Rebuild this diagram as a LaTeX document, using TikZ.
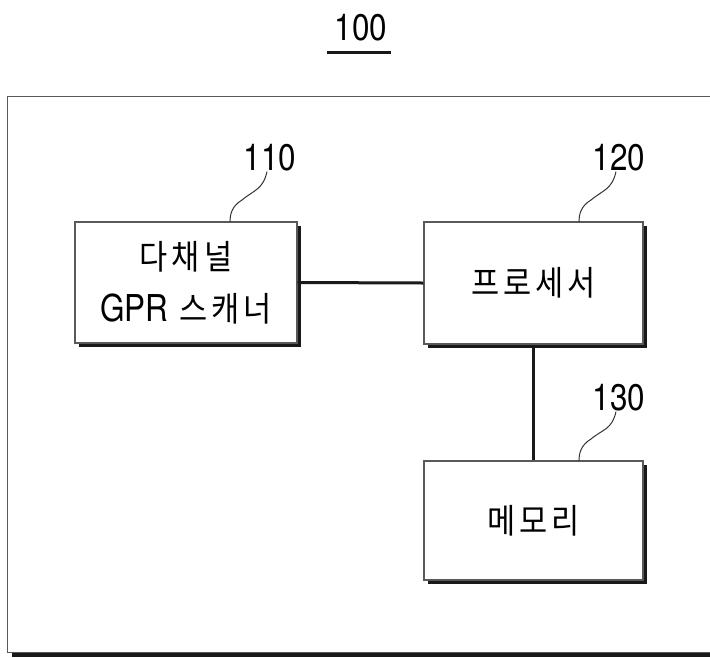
\documentclass[tikz,border=0pt]{standalone}
\usepackage{fontspec}
\usetikzlibrary{shadows}
\newfontfamily\krfont{Noto Sans CJK KR}[FakeStretch=0.9,LetterSpace=12]
\newfontfamily\numfont{TeX Gyre Heros}[FakeStretch=0.85]
\tikzset{
  blk/.style={draw=black!65, line width=1.4pt, fill=white,
    drop shadow={shadow xshift=4pt, shadow yshift=-4pt, opacity=1, fill=black!90},
    align=center, inner sep=0pt},
  kr/.style={font=\krfont\fontsize{34}{52}\selectfont},
  lbl/.style={font=\numfont\fontsize{37}{40}\selectfont, inner sep=0pt},
  link/.style={line width=3pt, black!90},
  lead/.style={line width=1pt, black!80}
}
\begin{document}
\begin{tikzpicture}[x=1pt,y=-1pt]
\useasboundingbox (0,0) rectangle (710,657);
% outer frame
\node[blk, minimum width=720pt, minimum height=556pt, anchor=north west] (frame) at (7,96) {};
% title
\node[lbl] (t100) at (361,28) {100};
\draw[line width=3pt, black!90] (t100.south west |- 0,52) ++(-8,0) coordinate (u1) -- ([xshift=4pt]t100.south east |- 0,52) coordinate (u2);
% boxes
\node[blk, kr, minimum width=222pt, minimum height=121pt] (scan) at (186,282.5)
  {다채널\\{\numfont\fontsize{37}{52}\selectfont GPR} 스캐너};
\node[blk, kr, minimum width=219pt, minimum height=122pt] (proc) at (533.5,283)
  {프로세서};
\node[blk, kr, minimum width=219pt, minimum height=119pt] (mem) at (533.5,520.5)
  {메모리};
% reference numerals
\node[lbl] (n110) at (270,158) {110};
\node[lbl] (n120) at (619,158) {120};
\node[lbl] (n130) at (619,398) {130};
% leaders
\draw[lead] ([xshift=-3pt]n110.south) .. controls +(-4,18) and +(12,-10) .. (242,200) .. controls +(-10,6) and +(0,-8) .. (230,222);
\draw[lead] ([xshift=-3pt]n120.south) .. controls +(-4,18) and +(12,-10) .. (591,200) .. controls +(-10,6) and +(0,-8) .. (579,222);
\draw[lead] ([xshift=-3pt]n130.south) .. controls +(-4,18) and +(12,-10) .. (591,439) .. controls +(-10,6) and +(0,-8) .. (579,461);
% connectors
\draw[link] (scan.east) -- (proc.west);
\draw[link] (proc.south) -- (mem.north);
\end{tikzpicture}
\end{document}
